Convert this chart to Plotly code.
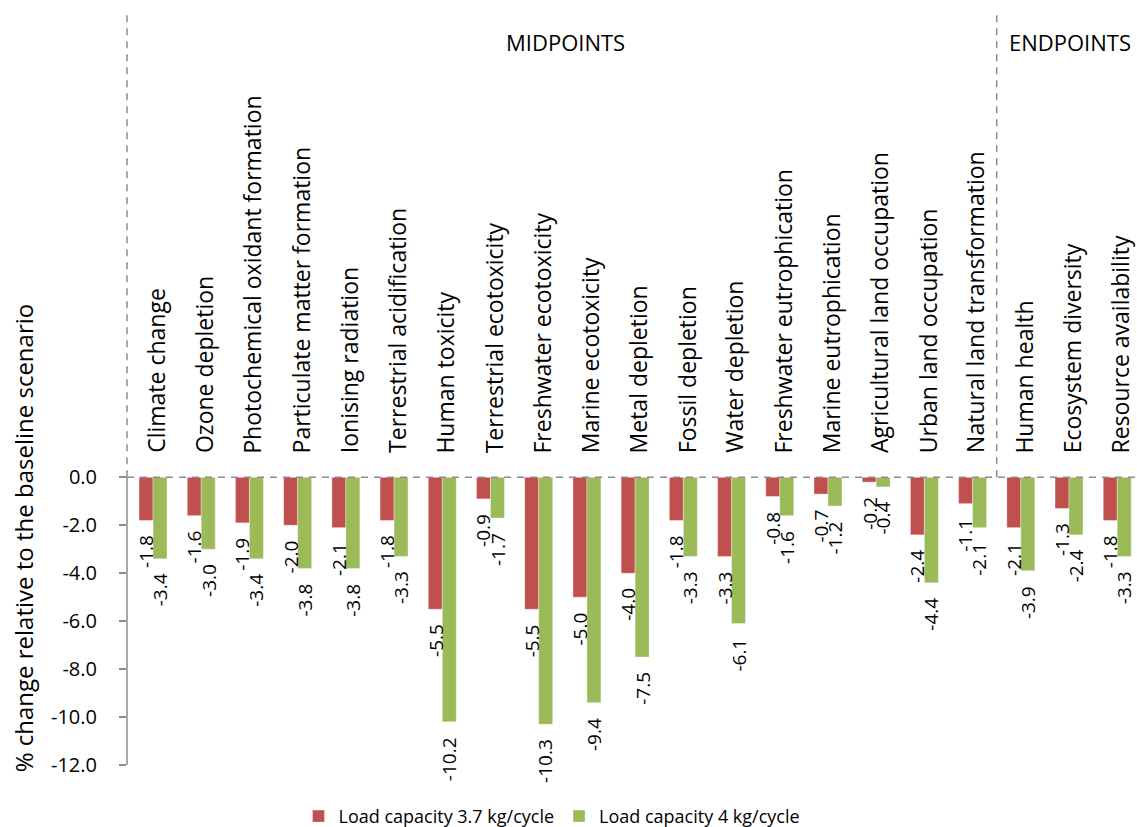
import plotly.graph_objects as go

categories = [
    "Climate change", "Ozone depletion", "Photochemical oxidant formation",
    "Particulate matter formation", "Ionising radiation", "Terrestrial acidification",
    "Human toxicity", "Terrestrial ecotoxicity", "Freshwater ecotoxicity",
    "Marine ecotoxicity", "Metal depletion", "Fossil depletion", "Water depletion",
    "Freshwater eutrophication", "Marine eutrophication", "Agricultural land occupation",
    "Urban land occupation", "Natural land transformation",
    "Human health", "Ecosystem diversity", "Resource availability",
]
load_37 = [-1.8, -1.6, -1.9, -2.0, -2.1, -1.8, -5.5, -0.9, -5.5, -5.0, -4.0, -1.8, -3.3,
           -0.8, -0.7, -0.2, -2.4, -1.1, -2.1, -1.3, -1.8]
load_4 = [-3.4, -3.0, -3.4, -3.8, -3.8, -3.3, -10.2, -1.7, -10.3, -9.4, -7.5, -3.3, -6.1,
          -1.6, -1.2, -0.4, -4.4, -2.1, -3.9, -2.4, -3.3]
series_names = ["Load capacity 3.7 kg/cycle", "Load capacity 4 kg/cycle"]
tick_vals = [0, -2, -4, -6, -8, -10, -12]
tick_text = ["0.0", "-2.0", "-4.0", "-6.0", "-8.0", "-10.0", "-12.0"]
section_labels = ["MIDPOINTS", "ENDPOINTS"]
y_title = "% change relative to the baseline scenario"

RED = "#C0504D"
GREEN = "#9BBB59"
GRAY = "#8C8C8C"
FONT = "Open Sans"

# the photographed page is slightly taller than 827; design in a 835-tall frame
SY = 835 / 827
W, H = 1137, 835

def sy(py):
    return py * SY

# plot area (reference pixels): left 127, top 15, bottom 765 (y=-12), zero at 477
L, R = 127, 0
T = round(sy(15))
BOT = round(sy(765))
B = H - BOT
plot_w = W - L - R
plot_h = H - T - B
PX_PER_UNIT = (BOT - sy(477)) / 12.0
Y_TOP = (BOT - T) / PX_PER_UNIT - 12

def px_x(px):
    return (px - L) / plot_w

def px_y(py):
    return (H - B - sy(py)) / plot_h

x_idx = list(range(len(categories)))

fig = go.Figure()
for vals, name, col in [(load_37, series_names[0], RED), (load_4, series_names[1], GREEN)]:
    fig.add_trace(go.Bar(
        x=x_idx, y=vals, name=name,
        marker=dict(color=col, line=dict(color="rgba(255,255,255,0.35)", width=1)),
    ))

annotations = []
# data labels
for vals, shift in [(load_37, -7), (load_4, 7)]:
    for i, v in enumerate(vals):
        annotations.append(dict(
            x=i, y=v, xref="x", yref="y", text=f"{v:.1f}", showarrow=False,
            textangle=-90, xanchor="center", yanchor="top", xshift=shift, yshift=-13,
            font=dict(family=FONT, size=19, color="black"),
        ))
# category labels
for i, c in enumerate(categories):
    annotations.append(dict(
        x=i, y=0, xref="x", yref="y", text=c, showarrow=False,
        textangle=-90, xanchor="center", yanchor="bottom", xshift=3, yshift=22,
        font=dict(family=FONT, size=23, color="black"),
    ))
# section labels
annotations.append(dict(x=px_x(565), y=px_y(42), xref="paper", yref="paper",
                        text=section_labels[0], showarrow=False, xanchor="center", yanchor="middle",
                        font=dict(family=FONT, size=22, color="black")))
annotations.append(dict(x=px_x(1070), y=px_y(42), xref="paper", yref="paper",
                        text=section_labels[1], showarrow=False, xanchor="center", yanchor="middle",
                        font=dict(family=FONT, size=22, color="black")))
# y title
annotations.append(dict(x=px_x(23), y=px_y(538), xref="paper", yref="paper",
                        text=y_title, showarrow=False, textangle=-90, xanchor="center", yanchor="middle",
                        font=dict(family=FONT, size=24, color="black")))

shapes = [
    dict(type="line", xref="paper", yref="y", x0=0, x1=1, y0=0, y1=0,
         line=dict(color=GRAY, width=1.5, dash="7px,6px")),
    dict(type="line", xref="paper", yref="y", x0=0, x1=0, y0=-12, y1=0,
         line=dict(color=GRAY, width=1.5)),
    dict(type="line", xref="paper", yref="y", x0=0, x1=0, y0=0, y1=Y_TOP,
         line=dict(color=GRAY, width=1.5, dash="7px,6px")),
    dict(type="line", xref="x", yref="y", x0=17.5, x1=17.5, y0=0, y1=Y_TOP,
         line=dict(color=GRAY, width=1.5, dash="7px,6px")),
]

fig.update_layout(
    width=W, height=H,
    margin=dict(l=L, r=R, t=T, b=B, pad=0),
    paper_bgcolor="white", plot_bgcolor="white",
    barmode="group", bargap=0.42, bargroupgap=0,
    font=dict(family=FONT, color="black"),
    showlegend=True,
    legend=dict(orientation="h", x=px_x(552), y=px_y(816),
                xanchor="center", yanchor="middle", font=dict(family=FONT, size=18),
                itemwidth=30, traceorder="normal", bgcolor="rgba(0,0,0,0)"),
    annotations=annotations,
    shapes=shapes,
    xaxis=dict(range=[-0.54, 20.41], showticklabels=False, showgrid=False, zeroline=False,
               showline=False, ticks=""),
    yaxis=dict(range=[-12, Y_TOP], tickvals=tick_vals, ticktext=tick_text,
               showgrid=False, zeroline=False, showline=False, ticks="outside", ticklen=7,
               tickcolor=GRAY, tickwidth=1.5, ticklabelstandoff=18,
               tickfont=dict(family=FONT, size=20, color="black")),
)

post = (
    "document.body.style.margin='0';"
    "document.documentElement.style.overflow='hidden';"
    "var gd=document.getElementById('{plot_id}');"
    "gd.style.position='fixed';gd.style.left='0px';gd.style.top='0px';"
)
fig.write_html("out.html", config={"displayModeBar": False}, post_script=post)
